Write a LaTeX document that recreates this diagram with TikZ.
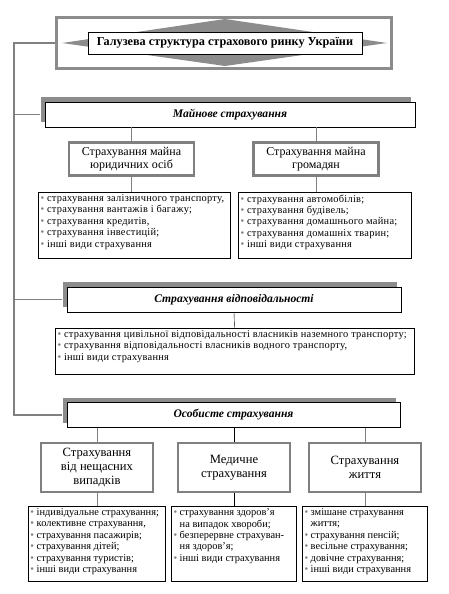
\documentclass[tikz,border=0pt]{standalone}
\usepackage{fontspec}
\setmainfont{Liberation Serif}
\usetikzlibrary{shadows,calc}
\definecolor{frgray}{gray}{0.55}
\definecolor{lngray}{gray}{0.5}
\newcommand{\bul}{{\color{lngray}\textbullet}\ }
\newcommand{\ind}{\hphantom{\textbullet\ }}
\newcommand{\wide}{\addfontfeature{LetterSpace=2.5}}
\newcommand{\lst}[3]{\parbox[c][#2][t]{#1}{\fontsize{10.4}{11.4}\selectfont\raggedright #3}}
\tikzset{
  head/.style={draw, fill=white, inner sep=2pt, minimum width=274pt, minimum height=22pt,
               font=\fontsize{12.2}{14}\selectfont\bfseries},
  sec/.style={draw, fill=white, minimum height=25pt, font=\fontsize{11.6}{13}\selectfont\bfseries\itshape,
              drop shadow={shadow xshift=-4.5pt, shadow yshift=5pt, opacity=1, fill=frgray}},
  sub/.style={draw=lngray, line width=2.2pt, fill=white, align=center, minimum width=125pt,
              minimum height=33pt, font=\fontsize{12}{13.5}\selectfont},
  subb/.style={sub, minimum width=112pt, minimum height=49pt, font=\fontsize{12.6}{14}\selectfont},
  lbox/.style={draw, fill=white, inner sep=2.5pt},
  gl/.style={draw=lngray},
  trunk/.style={draw=lngray, line width=1.6pt},
}

\begin{document}
\begin{tikzpicture}[x=1pt, y=-1pt]
  \useasboundingbox (0,0) rectangle (448,594);
  % title
  \node[draw=frgray, line width=3pt, minimum width=335pt, minimum height=51pt] (frame) at (224,43) {};
  \fill[frgray] (62,43) -- (225,19) -- (387,43) -- (225,66) -- cycle;
  \node[head] (title) at (225,43) {Галузева структура страхового ринку України};

  % property
  \node[sec, minimum width=370pt] (mayn) at (230,114.5) {Майнове страхування};
  \node[sub] (yur) at (131.5,159) {Страхування майна\\юридичних осіб};
  \node[sub] (grom) at (316,159) {Страхування майна\\громадян};
  \node[lbox, anchor=north] (lyur) at (134,192) {\lst{187pt}{61pt}{\wide
    \bul страхування залізничного транспорту,\\
    \bul страхування вантажів і багажу;\\
    \bul страхування кредитів,\\
    \bul страхування інвестицій;\\
    \bul інші види страхування}};
  \node[lbox, anchor=north] (lgrom) at (324.5,192) {\lst{168pt}{61pt}{\wide
    \bul страхування автомобілів;\\
    \bul страхування будівель;\\
    \bul страхування домашнього майна;\\
    \bul страхування домашніх тварин;\\
    \bul інші види страхування}};
  \draw[gl] (yur.north) -- (yur.north |- mayn.south);
  \draw[gl] (grom.north) -- (grom.north |- mayn.south);
  \draw[gl] (yur.south) -- (yur.south |- lyur.north);
  \draw[gl] (grom.south) -- (grom.south |- lgrom.north);

  % liability
  \node[sec, minimum width=334pt] (vidp) at (234,299.5) {Страхування відповідальності};
  \node[lbox, anchor=north] (lvidp) at (234.5,328) {\lst{354pt}{41pt}{\wide
    \bul страхування цивільної відповідальності власників наземного транспорту;\\
    \bul страхування відповідальності власників водного транспорту,\\
    \bul інші види страхування}};
  \draw (vidp.south) -- (lvidp.north);

  % personal
  \node[sec, minimum width=333pt] (osob) at (233.5,415) {Особисте страхування};
  \node[subb] (nesch) at (97,467.5) {Страхування\\від нещасних\\випадків};
  \node[subb] (med) at (234,467.5) {Медичне\\страхування};
  \node[subb] (zhyt) at (365,467.5) {Страхування\\життя};
  \node[lbox, anchor=north] (lnesch) at (96.5,506) {\lst{132pt}{70pt}{%
    \bul індивідуальне страхування;\\
    \bul колективне страхування,\\
    \bul страхування пасажирів;\\
    \bul страхування дітей;\\
    \bul страхування туристів;\\
    \bul інші види страхування}};
  \node[lbox, anchor=north] (lmed) at (233.5,506) {\lst{120pt}{70pt}{%
    \bul страхування здоров’я\\
    \ind на випадок хвороби;\\
    \bul безперервне страхуван-\\
    \ind ня здоров’я;\\
    \bul інші види страхування}};
  \node[lbox, anchor=north] (lzhyt) at (364.5,506) {\lst{120pt}{70pt}{%
    \bul змішане страхування\\
    \ind життя;\\
    \bul страхування пенсій;\\
    \bul весільне страхування;\\
    \bul довічне страхування;\\
    \bul інші види страхування}};
  \draw[gl] (nesch.north) -- (nesch.north |- osob.south);
  \draw (med.north) -- (med.north |- osob.south);
  \draw[gl] (zhyt.north) -- (zhyt.north |- osob.south);
  \draw[gl] (nesch.south) -- (nesch.south |- lnesch.north);
  \draw (med.south) -- (med.south |- lmed.north);
  \draw[gl] (zhyt.south) -- (zhyt.south |- lzhyt.north);

  % trunk
  \coordinate (tl) at (14,43);
  \draw[trunk] (frame.west) -- (tl) |- ([xshift=-5pt]osob.west);
  \draw[trunk] (tl |- mayn.west) -- ([xshift=-5pt]mayn.west);
  \draw[trunk] (tl |- vidp.west) -- ([xshift=-5pt]vidp.west);
\end{tikzpicture}
\end{document}
